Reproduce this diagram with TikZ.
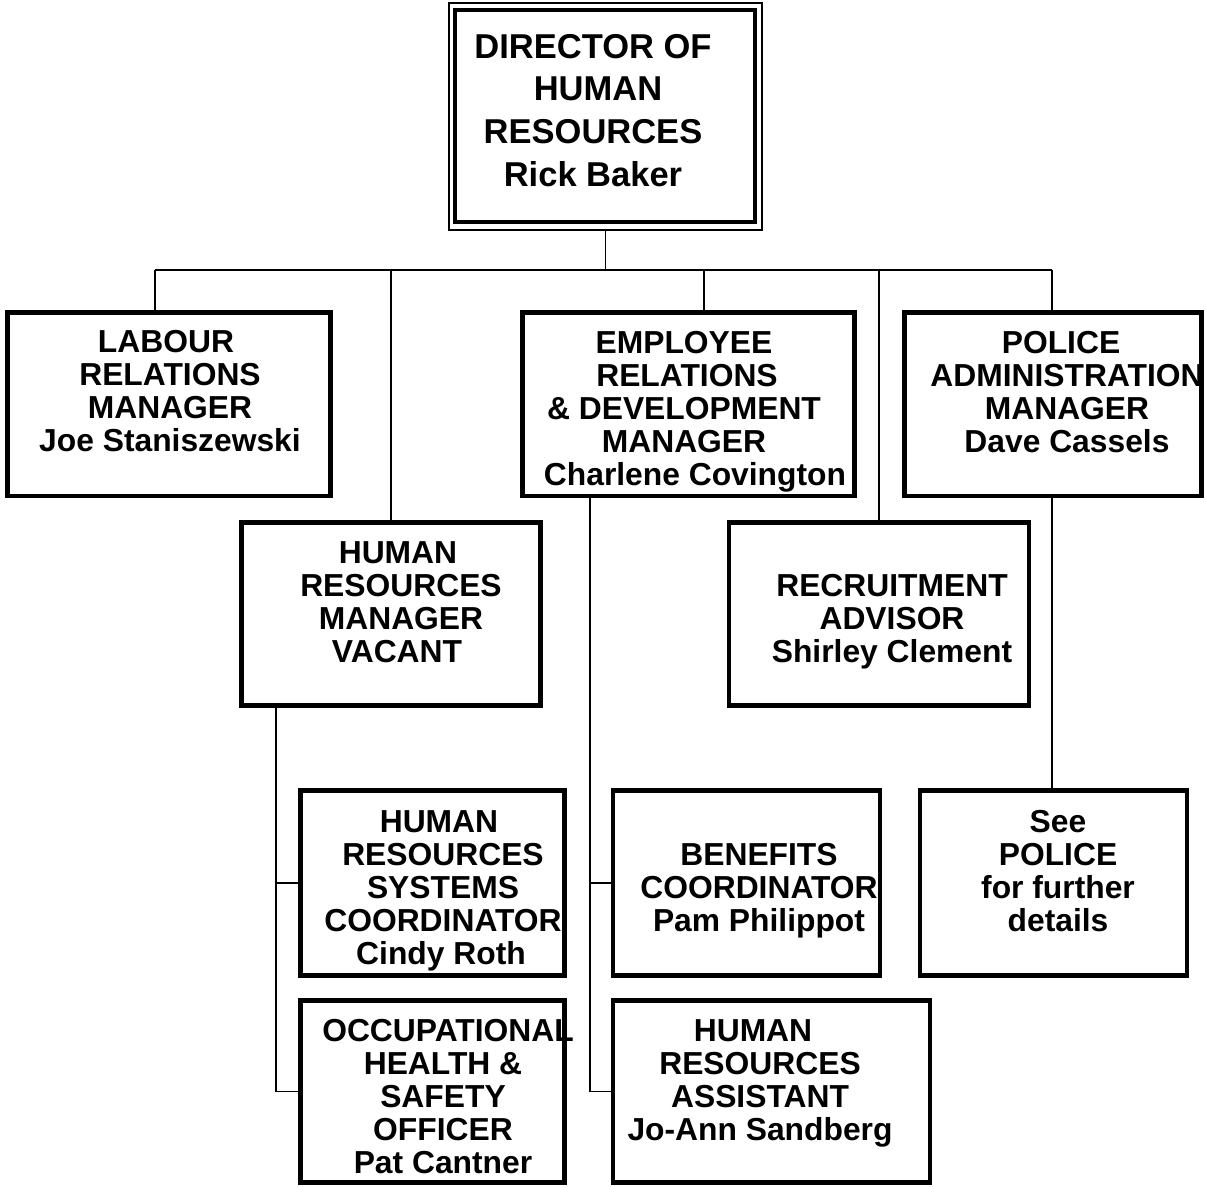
\documentclass[tikz,border=0pt]{standalone}
\usepackage{fontspec}
\setmainfont{Liberation Sans}
\tikzset{
  post/.style={
    draw=black,
    line width=4.5pt,
    fill=white,
    inner sep=0pt
  },
  postframe/.style={
    draw=black,
    line width=1.5pt,
    inner sep=0pt
  },
  posttext/.style={
    font=\bfseries\fontsize{31.8}{33}\selectfont,
    align=center,
    anchor=north,
    inner sep=0pt
  },
  headtext/.style={
    font=\bfseries\fontsize{34.5}{42.7}\selectfont,
    align=center,
    anchor=north,
    inner sep=0pt
  },
  wire/.style={
    draw=black,
    line width=1.6pt
  }
}

\begin{document}
\begin{tikzpicture}[x=1pt,y=-1pt]

% Page
\fill[white] (0,0) rectangle (1206,1186);
\useasboundingbox (0,0) rectangle (1206,1186);

% Director
\node[postframe, minimum width=313pt, minimum height=227pt] (dirframe) at (605.5,116.5) {};
\node[post, minimum width=300pt, minimum height=212pt] (dir) at (605,116) {};
\node[headtext] (dir-t) at (593,34) {DIRECTOR OF\\\hspace*{10pt}HUMAN\\RESOURCES\\Rick Baker};

% ---------- first row ----------
\node[post, minimum width=323pt, minimum height=183.5pt] (lab) at (169,404.25) {};
\node[posttext] (lab-t) at (170,330) {LABOUR\hspace*{8pt}\\RELATIONS\\MANAGER\hspace*{6pt}\\Joe Staniszewski};

\node[post, minimum width=332pt, minimum height=183.5pt] (emp) at (688.5,404.25) {};
\node[posttext] (emp-t) at (684,331) {EMPLOYEE\\\hspace*{6pt}RELATIONS\\\& DEVELOPMENT\\MANAGER\hspace*{20pt}\\\hspace*{22pt}Charlene Covington};

\node[post, minimum width=297pt, minimum height=183.5pt] (pol) at (1053,404.25) {};
\node[posttext] (pol-t) at (1067,331) {POLICE\hspace*{12pt}\\ADMINISTRATION\\MANAGER\\Dave Cassels};

% ---------- second row ----------
\node[post, minimum width=299pt, minimum height=183pt] (hrm) at (391,614) {};
\node[posttext] (hrm-t) at (401,541) {HUMAN\hspace*{6pt}\\RESOURCES\\MANAGER\\VACANT\hspace*{8pt}};

\node[post, minimum width=300pt, minimum height=183pt] (rec) at (879,614) {};
\node[posttext] (rec-t) at (892,574) {RECRUITMENT\\ADVISOR\hspace*{8pt}\\Shirley Clement};

% ---------- lower boxes ----------
\node[post, minimum width=264pt, minimum height=185pt] (hrs) at (432.5,883) {};
\node[posttext] (hrs-t) at (443,810) {HUMAN\hspace*{8pt}\\RESOURCES\\SYSTEMS\\COORDINATOR\\Cindy Roth\hspace*{4pt}};

\node[post, minimum width=264pt, minimum height=182pt] (ohs) at (432.5,1091.5) {};
\node[posttext] (ohs-t) at (443,1019) {\hspace*{10pt}OCCUPATIONAL\\HEALTH \&\\SAFETY\\OFFICER\\Pat Cantner};

\node[post, minimum width=267pt, minimum height=185pt] (ben) at (746.5,883) {};
\node[posttext] (ben-t) at (759,843) {BENEFITS\\COORDINATOR\\Pam Philippot};

\node[post, minimum width=317pt, minimum height=182pt] (hra) at (771.5,1091.5) {};
\node[posttext] (hra-t) at (760,1019) {HUMAN\hspace*{14pt}\\RESOURCES\\ASSISTANT\\Jo-Ann Sandberg};

\node[post, minimum width=267pt, minimum height=185pt] (see) at (1053.5,883) {};
\node[posttext] (see-t) at (1058,810) {See\\POLICE\\for further\\details};

% ---------- connectors ----------
\coordinate (bus) at (0,270);
\coordinate (labdrop) at ([xshift=-14pt]lab.north);
\coordinate (empdrop) at ([xshift=15.5pt]emp.north);
\coordinate (poldrop) at ([xshift=-1pt]pol.north);

\draw[wire] (dirframe.south) -- (dirframe.south |- bus);
\draw[wire] (labdrop |- bus) -- (poldrop |- bus);
\draw[wire] (labdrop) -- (labdrop |- bus);
\draw[wire] (hrm.north) -- (hrm.north |- bus);
\draw[wire] (empdrop) -- (empdrop |- bus);
\draw[wire] (rec.north) -- (rec.north |- bus);
\draw[wire] (poldrop) -- (poldrop |- bus);

\coordinate (hrmdrop) at ([xshift=-115pt]hrm.south);
\draw[wire] (hrmdrop) |- (ohs.west);
\draw[wire] (hrmdrop |- hrs.west) -- (hrs.west);

\coordinate (empfoot) at ([xshift=-98.5pt]emp.south);
\draw[wire] (empfoot) |- (hra.west);
\draw[wire] (empfoot |- ben.west) -- (ben.west);

\draw[wire] ([xshift=-1pt]pol.south) -- ([xshift=-1pt]pol.south |- see.north);

\end{tikzpicture}
\end{document}
